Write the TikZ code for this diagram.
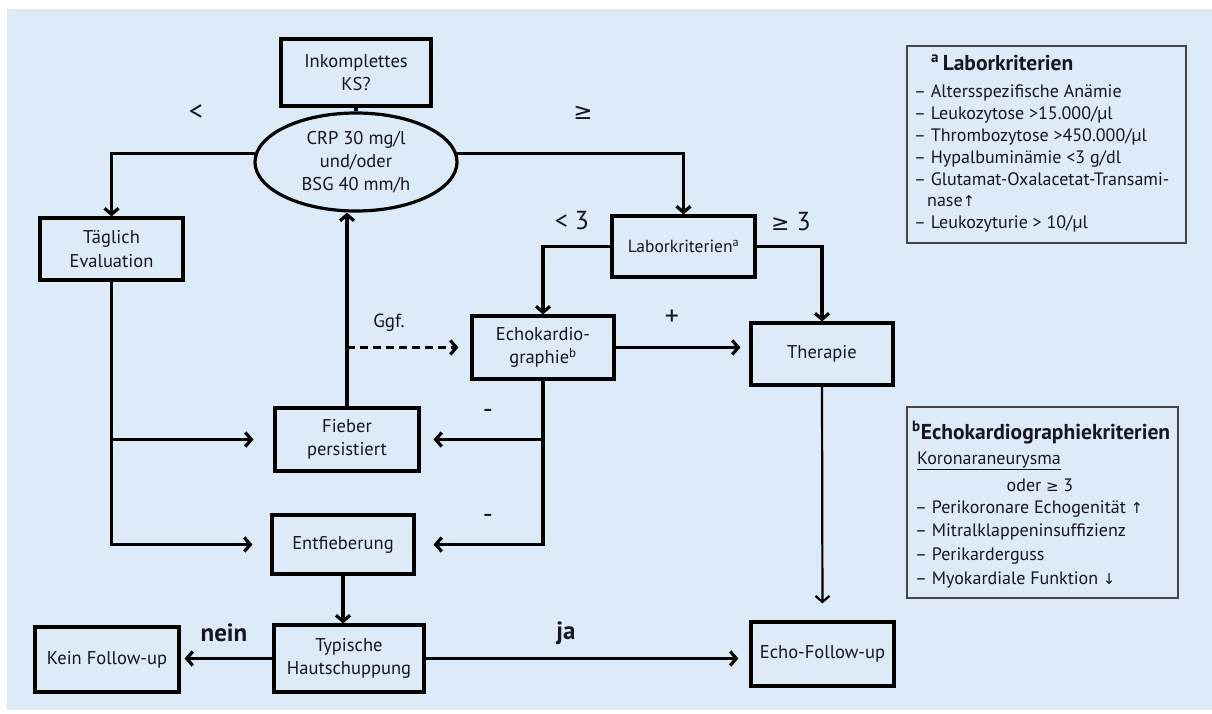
\documentclass[tikz,border=0pt]{standalone}
\usepackage{fontspec}
\setmainfont{PT Sans}
\newfontfamily\symf{DejaVu Sans}
\usetikzlibrary{shapes.geometric,arrows.meta}
\definecolor{bg}{RGB}{221,234,247}
\definecolor{ink}{RGB}{22,22,32}
\definecolor{framegrey}{RGB}{70,70,70}
\begin{document}
\begin{tikzpicture}[x=1pt,y=-1pt,
  flowbox/.style={draw=black, line width=3.2pt, fill=bg, align=center, inner sep=0pt,
    text=ink, font=\fontsize{18.5}{23.5}\selectfont},
  conn/.style={draw=black, line width=3.2pt},
  arr/.style={conn, -{Straight Barb[length=6pt,width=14pt]}},
  lbl/.style={text=ink, inner sep=0pt, font=\fontsize{28}{28}\selectfont},
  bigl/.style={text=ink, inner sep=0pt, font=\fontsize{26}{26}\selectfont},
  notebox/.style={draw=framegrey, line width=1.8pt, fill=bg, inner sep=0pt},
  notetxt/.style={text=ink, inner sep=0pt, anchor=base west, font=\fontsize{18}{20}\selectfont},
  notetitle/.style={text=ink, inner sep=0pt, anchor=base west, font=\fontsize{21.5}{22}\selectfont\bfseries}
]
\useasboundingbox (0,0) rectangle (1212,713);
\fill[bg] (7,9) rectangle (1212,710);

% flow nodes
\node[flowbox, minimum width=150pt, minimum height=67pt] (inkom) at (356,72.5) {Inkomplettes\\KS?};
\node[ellipse, draw=black, line width=3.2pt, fill=bg, align=center, inner sep=0pt,
      minimum width=202pt, minimum height=98pt, text=ink,
      font=\fontsize{18.5}{23}\selectfont] (crp) at (356,162) {CRP 30 mg/l\\und/oder\\BSG 40 mm/h};
\node[flowbox, minimum width=143pt, minimum height=62pt] (taeg) at (111.5,249) {Täglich\\Evaluation};
\node[flowbox, minimum width=143pt, minimum height=61pt, font=\fontsize{17.5}{22}\selectfont] (labor) at (683.5,246.5) {Laborkriterien\textsuperscript{a}};
\node[flowbox, minimum width=142pt, minimum height=63pt] (echo) at (543,347.5) {Echokardio-\\graphie\textsuperscript{b}};
\node[flowbox, minimum width=142pt, minimum height=62pt] (ther) at (822,354) {Therapie};
\node[flowbox, minimum width=144pt, minimum height=63pt] (fieber) at (347,439.5) {Fieber\\persistiert};
\node[flowbox, minimum width=142pt, minimum height=59pt] (entf) at (343,544.5) {Entfieberung};
\node[flowbox, minimum width=150pt, minimum height=67pt] (typ) at (349,658.5) {Typische\\Hautschuppung};
\node[flowbox, minimum width=144pt, minimum height=65pt] (kein) at (107,659.5) {Kein Follow-up};
\node[flowbox, minimum width=143pt, minimum height=64pt] (efu) at (822.5,654) {Echo-Follow-up};

% connectors
\draw[conn] (inkom.south) -- (crp.north);
\draw[arr] (crp.175) -| (taeg.north);
\draw[arr] (crp.5) -| (labor.north);
\draw[arr] (labor.west) -| (echo.north);
\draw[arr] (labor.east) -| (ther.north);
\draw[arr, shorten >=9pt] (echo.east) -- (echo.east -| ther.west);
\draw[arr] (taeg.south) |- ([xshift=-18pt]entf.west);
\draw[arr] (taeg.south |- fieber.west) -- ([xshift=-20pt]fieber.west);
\draw[arr] (echo.south) |- ([xshift=18pt]entf.east);
\draw[arr] (echo.south |- fieber.east) -- ([xshift=13pt]fieber.east);
\draw[arr] (fieber.north) -- (fieber.north |- crp.south);
\draw[arr, dash pattern=on 8pt off 5pt] (fieber.north |- echo.west) -- ([xshift=-12pt]echo.west);
\draw[arr, line width=2.2pt, shorten >=17pt] (ther.south) -- (efu.north);
\draw[arr] (entf.south) -- (entf.south |- typ.north);
\draw[arr, shorten >=4pt] (typ.west) -- (typ.west -| kein.east);
\draw[arr, shorten >=11pt] (typ.east) -- (typ.east -| efu.west);

% labels
\node[lbl] (llt) at (196,113) {<};
\node[lbl] (lge) at (583,113) {\symf\fontsize{23}{23}\selectfont ≥};
\node[bigl] (llt3) at (572,221) {< 3};
\node[bigl] (lge3) at (791,222) {{\symf\fontsize{22}{22}\selectfont ≥} 3};
\node[lbl] (lplus) at (672,318) {+};
\node[lbl] (lmin1) at (488,414) {-};
\node[lbl] (lmin2) at (488,519) {-};
\node[text=ink, inner sep=0pt, font=\fontsize{19}{19}\selectfont] (lggf) at (389,323) {Ggf.};
\node[text=ink, inner sep=0pt, font=\fontsize{25}{25}\selectfont\bfseries] (lnein) at (224,633) {nein};
\node[text=ink, inner sep=0pt, font=\fontsize{25}{25}\selectfont\bfseries] (lja) at (566,633) {ja};

% note box a
\node[notebox, minimum width=279pt, minimum height=197pt] (na) at (1046.5,144.5) {};
\node[notetitle] (na0) at (931,70) {\textsuperscript{a}\,Laborkriterien};
\node[notetxt] (na1) at (914,97) {– Altersspezifische Anämie};
\node[notetxt] (na2) at (914,119) {– Leukozytose >15.000/µl};
\node[notetxt] (na3) at (914,141) {– Thrombozytose >450.000/µl};
\node[notetxt] (na4) at (914,163) {– Hypalbuminämie <3 g/dl};
\node[notetxt] (na5) at (914,185) {– Glutamat-Oxalacetat-Transami-};
\node[notetxt] (na6) at (927,206) {nase{\symf\fontsize{15}{15}\selectfont ↑}};
\node[notetxt] (na7) at (914,228) {– Leukozyturie > 10/µl};

% note box b
\node[notebox, minimum width=271pt, minimum height=191pt] (nb) at (1042.5,502.5) {};
\node[notetitle] (nb0) at (912,439) {\textsuperscript{b}Echokardiographiekriterien};
\node[notetxt] (nb1) at (917,464) {\underline{Koronaraneurysma}};
\node[notetxt, anchor=base] (nb2) at (1040,491) {oder {\symf\fontsize{15}{15}\selectfont ≥} 3};
\node[notetxt] (nb3) at (915,513) {– Perikoronare Echogenität {\symf\fontsize{15}{15}\selectfont ↑}};
\node[notetxt] (nb4) at (915,536) {– Mitralklappeninsuffizienz};
\node[notetxt] (nb5) at (915,560) {– Perikarderguss};
\node[notetxt] (nb6) at (915,584) {– Myokardiale Funktion {\symf\fontsize{15}{15}\selectfont ↓}};
\end{tikzpicture}
\end{document}
